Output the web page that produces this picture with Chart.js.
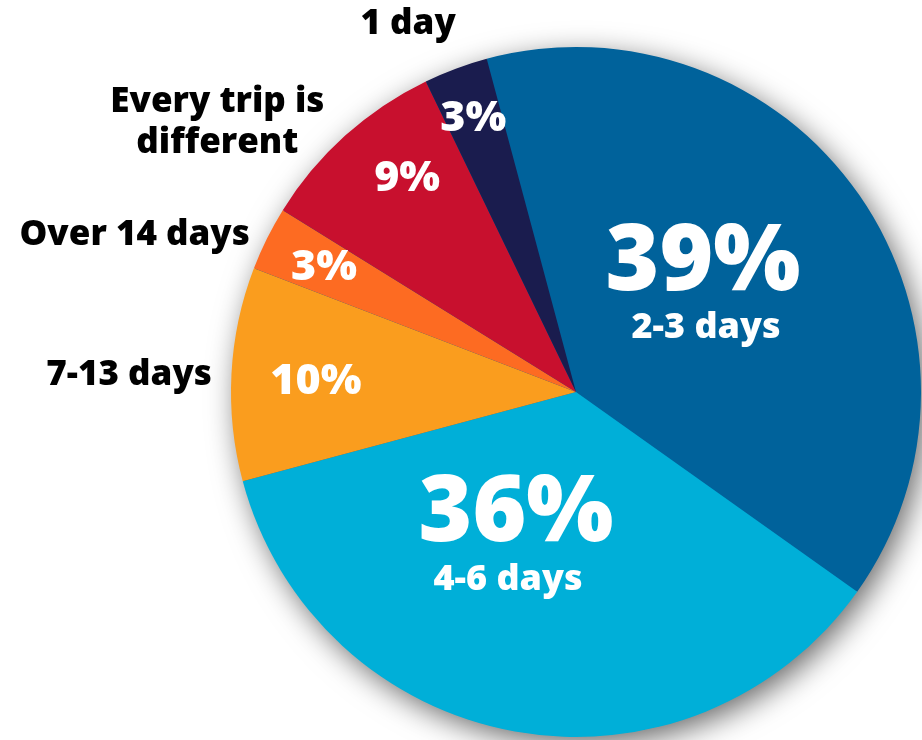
<!DOCTYPE html>
<html>
<head>
<meta charset="utf-8">
<script src="https://cdn.jsdelivr.net/npm/chart.js@4"></script>
<style>
  body { margin: 0; background: #fff; }
  #wrap { width: 922px; height: 740px; }
</style>
</head>
<body>
<div id="wrap"><canvas id="graficoViagens"></canvas></div>
<script>
// duração das viagens (%)
const categorias = ['2-3 days', '4-6 days', '7-13 days', 'Over 14 days', ['Every trip is', 'different'], '1 day'];
const percentuais = [39, 36, 10, 3, 9, 3];
const cores = ['#00629b', '#00afd8', '#fa9d1e', '#fd6b22', '#c8102e', '#1a1c4e'];

// posição dos textos: [fração do raio, desvio do ângulo em graus]
const posicoes = [
  { dentro: true, pct: [0.537, -11.9], nome: [0.424, 7.5] },
  { dentro: true, pct: [0.379, 17.1], nome: [0.571, 10] },
  { pct: [0.755, 0], nome: [1.057, 0], alinha: 'right' },
  { pct: [0.819, 0.5], nome: [1.053, -0.3], alinha: 'right' },
  { pct: [0.795, 4], nome: [1.305, -10.8], alinha: 'center' },
  { pct: [0.854, 0], nome: [1.178, -4], alinha: 'center' }
];

const FONTE = '"Open Sans", Lato, sans-serif';

function ponto(arc, [k, desvio]) {
  const meio = (arc.startAngle + arc.endAngle) / 2 + desvio * Math.PI / 180;
  return { x: arc.x + arc.outerRadius * k * Math.cos(meio), y: arc.y + arc.outerRadius * k * Math.sin(meio) };
}

// texto centrado pela altura das maiúsculas
function escreve(ctx, linhas, x, y, tamanho, cor, alinha, entrelinha) {
  ctx.font = `800 ${tamanho}px ${FONTE}`;
  ctx.fillStyle = cor;
  ctx.textAlign = alinha;
  ctx.textBaseline = 'alphabetic';
  const topo = y - (linhas.length - 1) * entrelinha / 2;
  linhas.forEach((l, i) => ctx.fillText(l, x, topo + i * entrelinha + tamanho * 0.357));
}

const sombra = {
  id: 'sombra',
  beforeDatasetsDraw(chart) {
    const arc = chart.getDatasetMeta(0).data[0];
    if (!arc) return;
    const ctx = chart.ctx;
    ctx.save();
    ctx.shadowColor = 'rgba(0,0,0,0.6)';
    ctx.shadowBlur = 30;
    ctx.shadowOffsetX = 6;
    ctx.shadowOffsetY = 8;
    ctx.fillStyle = cores[0];
    ctx.beginPath();
    ctx.arc(arc.x, arc.y, arc.outerRadius - 1, 0, Math.PI * 2);
    ctx.fill();
    ctx.restore();
  }
};

const rotulos = {
  id: 'rotulos',
  afterDatasetsDraw(chart) {
    const ctx = chart.ctx;
    const arcs = chart.getDatasetMeta(0).data;
    ctx.save();
    arcs.forEach((arc, i) => {
      const p = posicoes[i];
      const nome = [].concat(chart.data.labels[i]);
      const valor = chart.data.datasets[0].data[i] + '%';
      const a = ponto(arc, p.pct);
      const b = ponto(arc, p.nome);
      if (p.dentro) {
        escreve(ctx, [valor], a.x, a.y, 92, '#fff', 'center', 0);
        escreve(ctx, nome, b.x, b.y, 36, '#fff', 'center', 0);
      } else {
        escreve(ctx, [valor], a.x, a.y, 43, '#fff', 'center', 0);
        escreve(ctx, nome, b.x, b.y, 35, '#000', p.alinha, 41);
      }
    });
    ctx.restore();
  }
};

const ctx = document.getElementById('graficoViagens').getContext('2d');
new Chart(ctx, {
  type: 'pie',
  data: {
    labels: categorias,
    datasets: [{
      data: percentuais,
      backgroundColor: cores,
      borderWidth: 0,
      hoverOffset: 0
    }]
  },
  options: {
    responsive: true,
    maintainAspectRatio: false,
    animation: false,
    rotation: -15,
    layout: { padding: { left: 231, right: 1, top: 47, bottom: 3 } },
    plugins: {
      legend: { display: false },
      tooltip: { enabled: false }
    },
    events: []
  },
  plugins: [sombra, rotulos]
});
</script>
</body>
</html>
